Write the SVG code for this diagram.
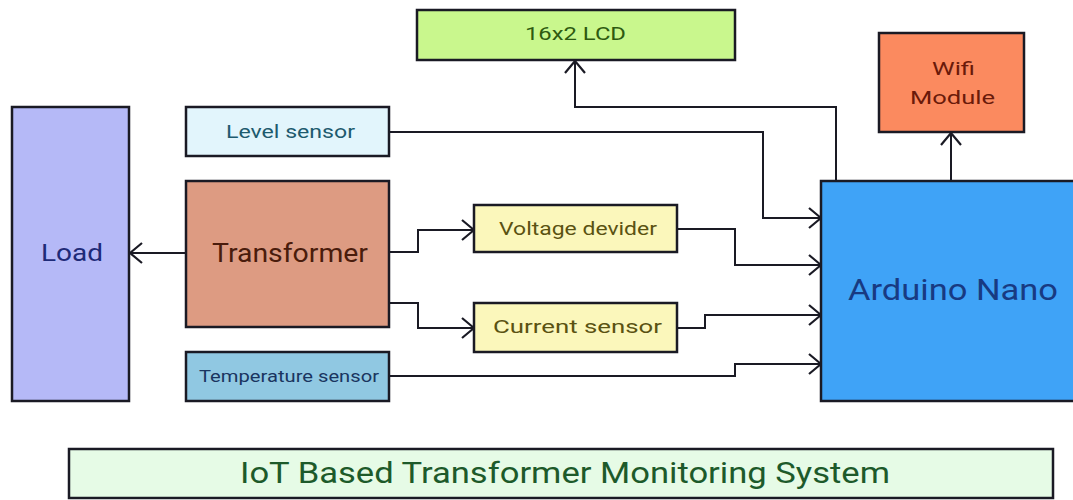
<svg xmlns="http://www.w3.org/2000/svg" width="1073" height="500" viewBox="0 0 1073 500">
<style>
.box{stroke:#1a1a24;stroke-width:2.5}
.t{font-family:Roboto,"Liberation Sans",sans-serif;font-weight:400}
.c{fill:none;stroke:#1a1a24;stroke-width:2}
</style>
<defs>
<marker id="arr" markerUnits="userSpaceOnUse" markerWidth="14" markerHeight="24" viewBox="0 0 14 24" refX="13" refY="12" orient="auto">
<path d="M1,2 L13,12 L1,22" fill="none" stroke="#1a1a24" stroke-width="2.2"/>
</marker>
</defs>
<rect width="1073" height="500" fill="#ffffff"/>
<g id="connectors">
<path class="c" d="M186,253 H130" marker-end="url(#arr)"/>
<path class="c" d="M389,252 H418 V230 H474" marker-end="url(#arr)"/>
<path class="c" d="M389,303 H418 V328 H474" marker-end="url(#arr)"/>
<path class="c" d="M389,132 H763 V218 H821" marker-end="url(#arr)"/>
<path class="c" d="M677,229 H735 V265 H821" marker-end="url(#arr)"/>
<path class="c" d="M677,328 H705 V315 H821" marker-end="url(#arr)"/>
<path class="c" d="M389,376 H735 V364 H821" marker-end="url(#arr)"/>
<path class="c" d="M836,181 V107 H575 V61" marker-end="url(#arr)"/>
<path class="c" d="M951,181 V133" marker-end="url(#arr)"/>
</g>
<g id="lcd">
<rect class="box" x="417" y="10" width="318" height="50" fill="#c9f78d"/>
<text class="t" x="525" y="40" font-size="18" fill="#2e5a10" textLength="101" lengthAdjust="spacingAndGlyphs">16x2 LCD</text>
</g>
<g id="wifi">
<rect class="box" x="879" y="33" width="145" height="99" fill="#fb8a5f"/>
<text class="t" x="932" y="75" font-size="18" fill="#6a1a0a" textLength="43" lengthAdjust="spacingAndGlyphs">Wifi</text>
<text class="t" x="910" y="104" font-size="18" fill="#6a1a0a" textLength="85" lengthAdjust="spacingAndGlyphs">Module</text>
</g>
<g id="load">
<rect class="box" x="12" y="107" width="117" height="294" fill="#b5b9f7"/>
<text class="t" x="41" y="261" font-size="24" fill="#1e2a78" textLength="62" lengthAdjust="spacingAndGlyphs">Load</text>
</g>
<g id="level">
<rect class="box" x="186" y="107" width="203" height="49" fill="#e2f5fc"/>
<text class="t" x="226" y="138" font-size="18" fill="#1d5a6e" textLength="129" lengthAdjust="spacingAndGlyphs">Level sensor</text>
</g>
<g id="transformer">
<rect class="box" x="186" y="181" width="203" height="146" fill="#dd9b82"/>
<text class="t" x="212" y="262" font-size="26" fill="#4a1c0c" textLength="156" lengthAdjust="spacingAndGlyphs">Transformer</text>
</g>
<g id="temperature">
<rect class="box" x="186" y="352" width="203" height="49" fill="#90c8e2"/>
<text class="t" x="199" y="382" font-size="17" fill="#1a3560" textLength="180" lengthAdjust="spacingAndGlyphs">Temperature sensor</text>
</g>
<g id="voltage">
<rect class="box" x="474" y="205" width="203" height="47" fill="#fbf7bb"/>
<text class="t" x="499" y="235" font-size="19" fill="#5a5212" textLength="158" lengthAdjust="spacingAndGlyphs">Voltage devider</text>
</g>
<g id="current">
<rect class="box" x="474" y="303" width="203" height="49" fill="#fbf7bb"/>
<text class="t" x="493" y="333" font-size="19" fill="#5a5212" textLength="169" lengthAdjust="spacingAndGlyphs">Current sensor</text>
</g>
<g id="arduino">
<rect class="box" x="821" y="181" width="262" height="220" fill="#3fa3f7"/>
<text class="t" x="848" y="300" font-size="30" fill="#183a82" textLength="210" lengthAdjust="spacingAndGlyphs">Arduino Nano</text>
</g>
<g id="title">
<rect class="box" x="69" y="449" width="984" height="49" fill="#e6fbe6"/>
<text class="t" x="240" y="483" font-size="30" fill="#1d5a2a" textLength="650" lengthAdjust="spacingAndGlyphs">IoT Based Transformer Monitoring System</text>
</g>
</svg>
